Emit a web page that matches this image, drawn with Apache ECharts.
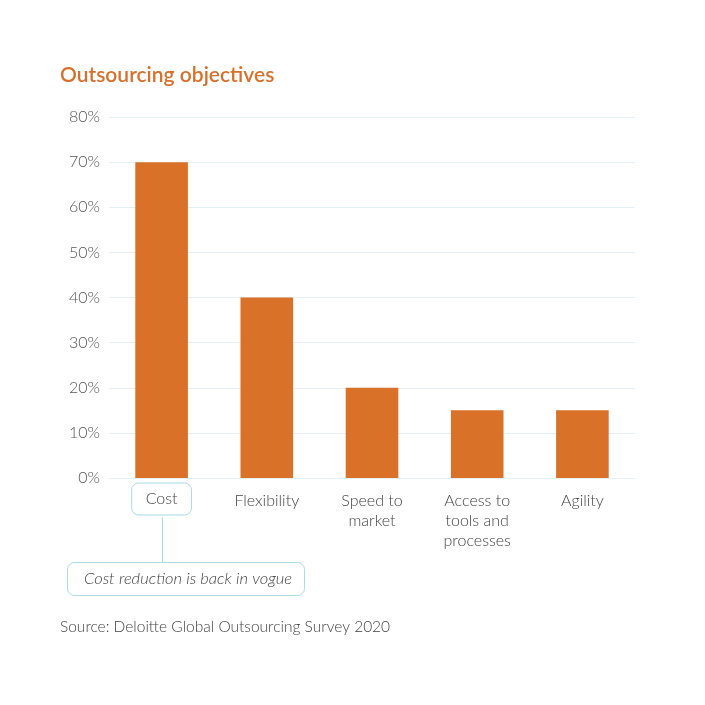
<!DOCTYPE html>
<html><head><meta charset="utf-8">
<script src="https://cdn.jsdelivr.net/npm/echarts@6/dist/echarts.min.js"></script>
<style>html,body{margin:0;padding:0;background:#fff}#c{width:705px;height:705px}</style>
</head><body><div id="c"></div>
<script>
const categories = ['Cost', 'Flexibility', 'Speed to\nmarket', 'Access to\ntools and\nprocesses', 'Agility'];
const values = [70, 40, 20, 15, 15];
const yTicks = [0, 10, 20, 30, 40, 50, 60, 70, 80];
const titleText = 'Outsourcing objectives';
const sourceText = 'Source: Deloitte Global Outsourcing Survey 2020';
const noteText = 'Cost reduction is back in vogue';

const chart = echarts.init(document.getElementById('c'), null, {renderer: 'canvas'});
const option = {
  backgroundColor: '#fff',
  animation: false,
  title: {
    text: titleText, left: 55, top: 60,
    textStyle: {color: '#d9702a', fontFamily: 'Lato', fontSize: 21, fontWeight: 600}
  },
  grid: {left: 109, right: 70, top: 117, bottom: 227},
  xAxis: {
    type: 'category', data: categories,
    axisLine: {show: true, lineStyle: {color: '#e3f1f7'}},
    axisTick: {show: false},
    axisLabel: {
      interval: 0, margin: 13, color: '#444', fontFamily: 'Lato', fontSize: 16, fontWeight: 300, lineHeight: 20,
      formatter: function (v, i) { return i === 0 ? '{box|' + v + '}' : v; },
      rich: {
        box: {borderColor: '#a9dbe9', borderWidth: 1, borderRadius: 7, padding: [8, 14, 8, 14],
              color: '#444', fontFamily: 'Lato', fontSize: 16, fontWeight: 300, lineHeight: 16}
      }
    }
  },
  yAxis: {
    type: 'value', min: yTicks[0], max: yTicks[yTicks.length - 1], interval: 10,
    axisLine: {show: false}, axisTick: {show: false},
    axisLabel: {formatter: '{value}%', color: '#555', fontFamily: 'Lato', fontSize: 16, fontWeight: 300, margin: 9},
    splitLine: {lineStyle: {color: '#e3f1f7', width: 1}}
  },
  series: [{
    type: 'bar', data: values, barWidth: '50%',
    itemStyle: {color: '#d97128'}
  }],
  graphic: []
};
chart.setOption(option);

const p0 = chart.convertToPixel({xAxisIndex: 0, yAxisIndex: 0}, [0, 0]);
const cx = Math.round(p0[0]) + 0.5;
chart.setOption({
  graphic: [
    {type: 'line', shape: {x1: cx, y1: 517, x2: cx, y2: 562}, style: {stroke: '#a9dbe9', lineWidth: 1}},
    {type: 'rect', shape: {x: 67.5, y: 562.5, width: 237, height: 33, r: 7},
     style: {fill: '#fff', stroke: '#a9dbe9', lineWidth: 1}},
    {type: 'text', x: 188, y: 579,
     style: {text: noteText, fill: '#444', font: 'italic 300 16.5px Lato', textAlign: 'center', textVerticalAlign: 'middle'}},
    {type: 'text', x: 60, y: 627,
     style: {text: sourceText, fill: '#444', font: '300 15.5px Lato', textAlign: 'left', textVerticalAlign: 'middle'}}
  ]
});
</script></body></html>
